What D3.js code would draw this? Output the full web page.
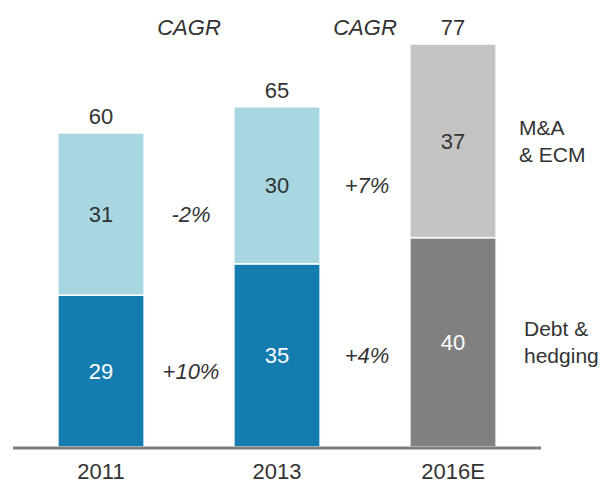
<!DOCTYPE html>
<html>
<head>
<meta charset="utf-8">
<script src="https://cdn.jsdelivr.net/npm/d3@7"></script>
<style>
  body { margin: 0; background: #fff; }
  text { font-family: "Liberation Sans", Arial, sans-serif; fill: #333; }
</style>
</head>
<body>
<div id="chart"></div>
<script>
// Chart data.
var years = ["2011", "2013", "2016E"];
var debtHedging = [29, 35, 40];
var maEcm = [31, 30, 37];
var totals = [60, 65, 77];
var cagrDebt = ["+10%", "+4%"];
var cagrMa = ["-2%", "+7%"];
var seriesNames = [["M&A", "& ECM"], ["Debt &", "hedging"]];

// Layout parameters.
var svgWidth = 608;
var svgHeight = 485;
var baseY = 447;
var topY = 44;
var fontSize = "22px";

var svg = d3.select("#chart")
  .append("svg")
  .attr("width", svgWidth)
  .attr("height", svgHeight);

var x = d3.scaleBand()
  .domain(years)
  .range([13, 541])
  .paddingInner(0.51)
  .paddingOuter(0.255);

var y = d3.scaleLinear()
  .domain([0, 77])
  .range([baseY, topY]);

// Colours: blue for the actuals, grey for the estimate.
var darkColor = (d, i) => i === 2 ? "#808080" : "#157caf";
var lightColor = (d, i) => i === 2 ? "#c3c3c3" : "#a8d7e2";

// Bottom segments.
svg.selectAll(".debt")
  .data(debtHedging)
  .enter()
  .append("rect")
  .attr("class", "debt")
  .attr("x", (d, i) => x(years[i]))
  .attr("width", x.bandwidth())
  .attr("y", d => y(d))
  .attr("height", d => y(0) - y(d))
  .attr("fill", darkColor)
  .attr("stroke", "#fff")
  .attr("stroke-width", 1.5);

// Top segments.
svg.selectAll(".ma")
  .data(maEcm)
  .enter()
  .append("rect")
  .attr("class", "ma")
  .attr("x", (d, i) => x(years[i]))
  .attr("width", x.bandwidth())
  .attr("y", (d, i) => y(debtHedging[i] + d))
  .attr("height", (d, i) => y(debtHedging[i]) - y(debtHedging[i] + d))
  .attr("fill", lightColor)
  .attr("stroke", "#fff")
  .attr("stroke-width", 1.5);

// Baseline.
svg.append("line")
  .attr("x1", 13)
  .attr("x2", 541)
  .attr("y1", baseY + 1)
  .attr("y2", baseY + 1)
  .attr("stroke", "#808080")
  .attr("stroke-width", 3);

// Segment values.
var cx = i => x(years[i]) + x.bandwidth() / 2;

svg.selectAll(".debtLabel")
  .data(debtHedging)
  .enter()
  .append("text")
  .attr("x", (d, i) => cx(i))
  .attr("y", d => y(d / 2))
  .attr("dy", "0.35em")
  .attr("text-anchor", "middle")
  .attr("font-size", fontSize)
  .style("fill", "#fff")
  .text(d => d);

svg.selectAll(".maLabel")
  .data(maEcm)
  .enter()
  .append("text")
  .attr("x", (d, i) => cx(i))
  .attr("y", (d, i) => y(debtHedging[i] + d / 2))
  .attr("dy", "0.35em")
  .attr("text-anchor", "middle")
  .attr("font-size", fontSize)
  .text(d => d);

// Totals above bars.
svg.selectAll(".total")
  .data(totals)
  .enter()
  .append("text")
  .attr("x", (d, i) => cx(i))
  .attr("y", d => y(d) - 9)
  .attr("text-anchor", "middle")
  .attr("font-size", fontSize)
  .text(d => d);

// Year labels.
svg.selectAll(".year")
  .data(years)
  .enter()
  .append("text")
  .attr("x", (d, i) => cx(i))
  .attr("y", 479)
  .attr("text-anchor", "middle")
  .attr("font-size", fontSize)
  .text(d => d);

// CAGR annotations between bars.
var gapX = i => (x(years[i]) + x.bandwidth() + x(years[i + 1])) / 2;

[0, 1].forEach(function(i) {
  svg.append("text")
    .attr("x", gapX(i))
    .attr("y", 35)
    .attr("text-anchor", "middle")
    .attr("font-size", fontSize)
    .attr("font-style", "italic")
    .text("CAGR");

  svg.append("text")
    .attr("x", gapX(i) + 2)
    .attr("y", y(debtHedging[i] + maEcm[i] / 2))
    .attr("dy", "0.35em")
    .attr("text-anchor", "middle")
    .attr("font-size", fontSize)
    .attr("font-style", "italic")
    .text(cagrMa[i]);

  svg.append("text")
    .attr("x", gapX(i) + 2)
    .attr("y", y(debtHedging[i] / 2))
    .attr("dy", "0.35em")
    .attr("text-anchor", "middle")
    .attr("font-size", fontSize)
    .attr("font-style", "italic")
    .text(cagrDebt[i]);
});

// Series labels on the right.
var last = years.length - 1;
var labelY = [
  y(debtHedging[last] + maEcm[last] / 2),
  y(debtHedging[last] / 2)
];
var labelX = [519, 524];

seriesNames.forEach(function(lines, k) {
  var t = svg.append("text")
    .attr("x", labelX[k])
    .attr("y", labelY[k] - 6)
    .attr("font-size", "21px");
  lines.forEach(function(line, j) {
    t.append("tspan")
      .attr("x", labelX[k])
      .attr("dy", j === 0 ? 0 : 27)
      .text(line);
  });
});
</script>
</body>
</html>
